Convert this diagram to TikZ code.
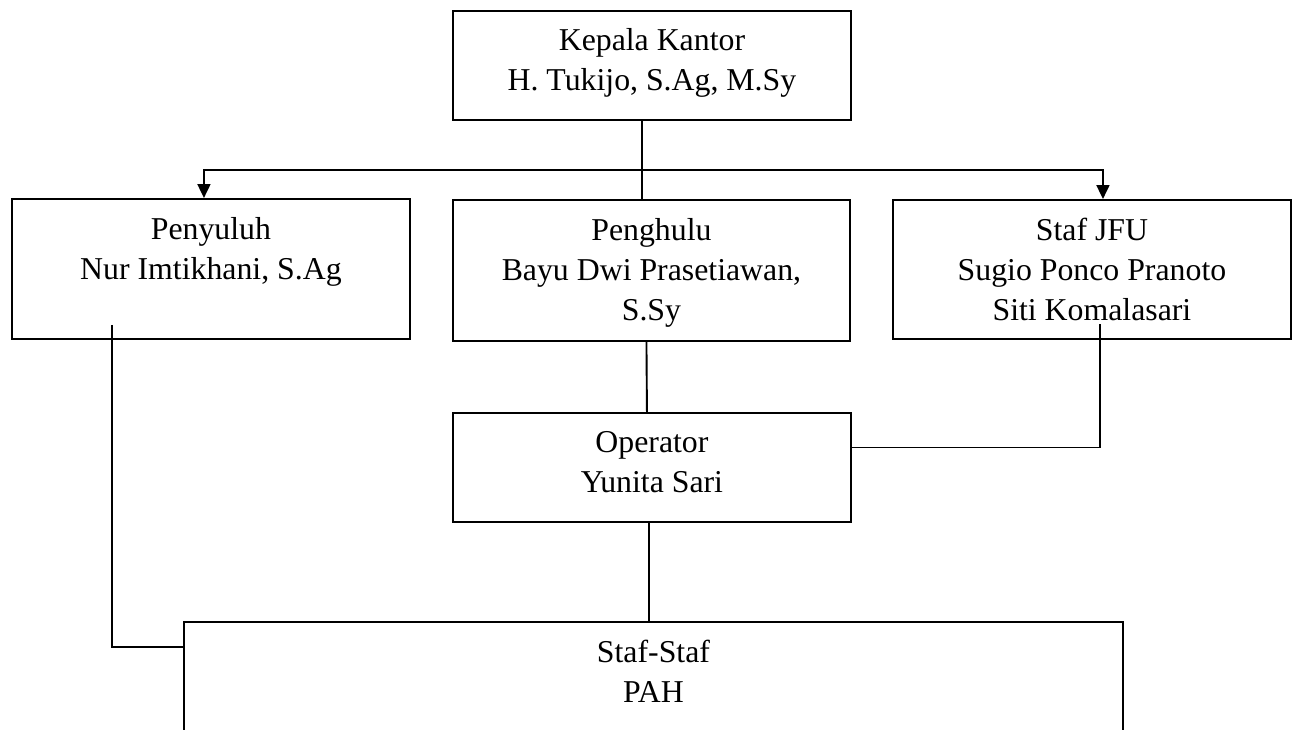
\documentclass[tikz,border=0pt]{standalone}
\usepackage{fontspec}
\setmainfont{Liberation Serif}
\usetikzlibrary{arrows.meta}

\begin{document}
\begin{tikzpicture}[x=1pt,y=-1pt,line width=1.9pt,
	box/.style={draw, anchor=north west, inner sep=0pt},
	txt/.style={anchor=north, align=center, inner sep=0pt, font=\fontsize{31.8}{40}\selectfont},
	arr/.style={-{Triangle[length=14pt,width=13pt]}}]
\clip (0,0) rectangle (1295,729);
\node[box, minimum width=398pt, minimum height=109pt] (kkbox) at (452,10) {};
\node[box, minimum width=398pt, minimum height=140pt] (pybox) at (11,198) {};
\node[box, minimum width=397pt, minimum height=141pt] (phbox) at (452,199) {};
\node[box, minimum width=398pt, minimum height=139pt] (jfubox) at (892,199) {};
\node[box, minimum width=398pt, minimum height=109pt] (opbox) at (452,412) {};
\node[box, minimum width=939pt, minimum height=160pt] (pahbox) at (183,621) {};
\node[txt] (kk) at ([yshift=-17pt]kkbox.north) {Kepala Kantor\\H. Tukijo, S.Ag, M.Sy};
\node[txt] (py) at ([yshift=-18pt]pybox.north) {Penyuluh\\Nur Imtikhani, S.Ag};
\node[txt] (ph) at ([yshift=-18pt]phbox.north) {Penghulu\\Bayu Dwi Prasetiawan,\\S.Sy};
\node[txt] (jfu) at ([yshift=-18pt]jfubox.north) {Staf JFU\\Sugio Ponco Pranoto\\Siti Komalasari};
\node[txt] (op) at ([yshift=-18pt]opbox.north) {Operator\\Yunita Sari};
\node[txt] (pah) at ([yshift=-18pt]pahbox.north) {Staf-Staf\\PAH};
\coordinate (bar) at (642,170);
\draw (kkbox.south -| bar) -- (phbox.north -| bar);
\draw[arr] (bar) -| ([xshift=-7pt]pybox.north);
\draw[arr] (bar) -| ([xshift=11pt]jfubox.north);
\draw ([xshift=-5pt]phbox.south) -- ([xshift=-5pt]opbox.north);
\draw ([xshift=-3pt]opbox.south) -- ([xshift=-3pt]opbox.south |- pahbox.north);
\draw ([yshift=20pt]opbox.east) -| ([xshift=8pt,yshift=16pt]jfubox.south);
\draw ([xshift=-99pt,yshift=15pt]pybox.south) |- ([yshift=-26pt]pahbox.north west);
\end{tikzpicture}
\end{document}
